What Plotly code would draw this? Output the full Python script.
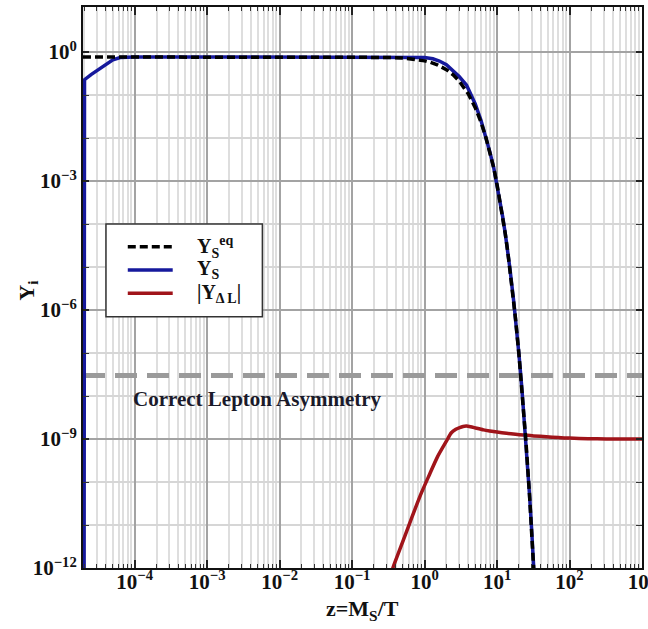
import math
import plotly.graph_objects as go

# ---- data -----------------------------------------------------------------
# z = M_S / T
X_MIN, X_MAX = 1.935e-5, 1.0e3
Y_MIN, Y_MAX = 1.0e-12, 11.2

# equilibrium yield Y_S^eq
z_eq = [1.935e-5, 1e-4, 1e-3, 1e-2, 0.1, 0.3, 0.5, 0.8, 1.0, 1.2, 1.5, 2.0,
        2.5, 3.0, 3.5, 4.0, 5.0, 6.0, 7.0, 8.0, 9.0, 10, 11, 12, 13, 14, 15,
        17, 18, 20, 22, 25, 28, 30, 32, 33, 35]
y_eq = [0.77, 0.77, 0.77, 0.77, 0.768, 0.753, 0.727, 0.670, 0.626, 0.578,
        0.506, 0.391, 0.292, 0.213, 0.152, 0.107, 0.0511, 0.02345, 0.01046,
        4.57e-3, 2.04e-3, 8.28e-4, 3.46e-4, 1.43e-4, 5.87e-5, 2.39e-5,
        9.68e-6, 1.56e-6, 6.21e-7, 9.75e-8, 1.51e-8, 9.02e-10, 5.28e-11,
        7.89e-12, 1.17e-12, 4.51e-13, 6.65e-14]

# singlet yield Y_S
z_s = [2.0e-5, 2.03e-5, 2.5e-5, 3.2e-5, 4.0e-5, 5.0e-5, 6.3e-5, 8e-5, 1e-4,
       1e-3, 1e-2, 0.1, 0.5, 0.8, 1.0, 1.3, 1.6, 2.0, 2.5, 3.0, 3.8, 5.0,
       6.0, 7.0, 8.0, 9.0, 10, 11, 12, 13, 14, 15, 17, 18, 20, 22, 25, 28,
       30, 32, 33, 35]
y_s = [1e-14, 0.228, 0.30, 0.40, 0.52, 0.66, 0.745, 0.77, 0.77, 0.77, 0.77,
       0.77, 0.77, 0.765, 0.75, 0.70, 0.62, 0.51, 0.37, 0.27, 0.17, 0.062,
       0.026, 0.0108, 4.6e-3, 2.04e-3, 8.28e-4, 3.46e-4, 1.43e-4, 5.87e-5,
       2.39e-5, 9.68e-6, 1.56e-6, 6.21e-7, 9.75e-8, 1.51e-8, 9.02e-10,
       5.28e-11, 7.89e-12, 1.17e-12, 4.51e-13, 6.65e-14]

# lepton asymmetry |Y_ΔL|
z_l = [0.34, 0.365, 0.5, 0.69, 0.9, 1.17, 1.5, 2.0, 2.34, 2.7, 3.05, 3.4,
       3.77, 4.3, 5.2, 6.5, 7.9, 10, 13.5, 18, 23, 32, 48, 70, 100, 180,
       320, 600, 1000]
y_l = [7e-13, 1.0e-12, 4.1e-12, 1.74e-11, 5.5e-11, 1.5e-10, 3.8e-10,
       8.9e-10, 1.40e-9, 1.68e-9, 1.85e-9, 1.96e-9, 2.0e-9, 1.93e-9,
       1.78e-9, 1.63e-9, 1.54e-9, 1.45e-9, 1.36e-9, 1.29e-9, 1.24e-9,
       1.18e-9, 1.13e-9, 1.08e-9, 1.05e-9, 1.02e-9, 1.0e-9, 1.0e-9, 1.0e-9]

# observed lepton asymmetry level
Y_CORRECT = 3.0e-8

y_major = [1e-12, 1e-9, 1e-6, 1e-3, 1.0]
y_major_text = ["10<sup>−12</sup>", "10<sup>−9</sup>", "10<sup>−6</sup>",
                "10<sup>−3</sup>", "10<sup>0</sup>"]
y_minor = [1e-11, 1e-10, 1e-8, 1e-7, 1e-5, 1e-4, 1e-2, 1e-1]
x_major = [1e-4, 1e-3, 1e-2, 1e-1, 1.0, 1e1, 1e2, 1e3]
x_major_text = ["10<sup>−4</sup>", "10<sup>−3</sup>", "10<sup>−2</sup>",
                "10<sup>−1</sup>", "10<sup>0</sup>", "10<sup>1</sup>",
                "10<sup>2</sup>", "10<sup>3</sup>"]

legend_labels = ["Y<sub>S</sub><sup>eq</sup>", "Y<sub>S</sub>",
                 "|Y<sub>Δ L</sub>|"]

# ---- styling ----------------------------------------------------------------
FONT = "Liberation Serif, Times New Roman, serif"
BLUE = "#16199c"
RED = "#a0141a"
BLACK = "#000000"
GREY = "#9a9a9a"
TXT = "#111111"

x_minor = [k * 10.0 ** d for d in range(-5, 3) for k in range(2, 10)
           if X_MIN <= k * 10.0 ** d <= X_MAX]

fig = go.Figure()

fig.add_trace(go.Scatter(x=[X_MIN, X_MAX], y=[Y_CORRECT, Y_CORRECT],
                         mode="lines", showlegend=False, hoverinfo="skip",
                         line=dict(color=GREY, width=5, dash="22px,10px")))
fig.add_trace(go.Scatter(x=z_l, y=y_l, mode="lines", name=legend_labels[2],
                         showlegend=False,
                         line=dict(color=RED, width=3.5, shape="spline",
                                   smoothing=0.7)))
fig.add_trace(go.Scatter(x=z_s, y=y_s, mode="lines", name=legend_labels[1],
                         showlegend=False,
                         line=dict(color=BLUE, width=3.5)))
fig.add_trace(go.Scatter(x=z_eq, y=y_eq, mode="lines", name=legend_labels[0],
                         showlegend=False,
                         line=dict(color=BLACK, width=3.5, dash="8px,4px")))

fig.update_layout(
    width=648, height=629,
    margin=dict(l=83.3, r=5.5, t=7, b=61),
    paper_bgcolor="white", plot_bgcolor="white",
    font=dict(family=FONT, color=TXT, size=21, weight="bold"),
    xaxis=dict(
        type="log", range=[math.log10(X_MIN), math.log10(X_MAX)],
        tickmode="array", tickvals=x_major, ticktext=x_major_text,
        tickfont=dict(family=FONT, size=21, color=TXT, weight="bold"),
        ticklabeloverflow="allow", ticklabelstandoff=-6,
        ticks="inside", ticklen=8, tickwidth=1.5, tickcolor="#222",
        showgrid=True, gridcolor="#a3a3a3", gridwidth=1.5,
        minor=dict(tickmode="array", tickvals=x_minor, ticks="inside",
                   ticklen=4, tickwidth=1, tickcolor="#333",
                   showgrid=True, gridcolor="#dedede", gridwidth=1.5),
        showline=True, linecolor="#111", linewidth=2, mirror="ticks",
        automargin=False, zeroline=False,
    ),
    yaxis=dict(
        type="log", range=[math.log10(Y_MIN), math.log10(Y_MAX)],
        tickmode="array", tickvals=y_major, ticktext=y_major_text,
        tickfont=dict(family=FONT, size=21, color=TXT, weight="bold"),
        ticklabeloverflow="allow",
        ticks="inside", ticklen=6, tickwidth=1.5, tickcolor="#222",
        showgrid=True, gridcolor="#a3a3a3", gridwidth=1.5,
        minor=dict(tickmode="array", tickvals=y_minor, ticks="inside",
                   ticklen=6, tickwidth=1, tickcolor="#333",
                   showgrid=True, gridcolor="#d6d6d6", gridwidth=1.5),
        showline=True, linecolor="#111", linewidth=2, mirror="ticks",
        automargin=False, zeroline=False,
    ),
)

# axis titles
fig.add_annotation(text="z=M<sub>S</sub>/T", xref="paper", yref="paper",
                   x=0.5, y=-0.075, xanchor="center", yanchor="middle",
                   showarrow=False, font=dict(size=22, family=FONT, color=TXT,
                                              weight="bold"))
fig.add_annotation(text="Y<sub>i</sub>", xref="paper", yref="paper",
                   x=-0.099, y=0.4955, xanchor="center", yanchor="middle",
                   textangle=-90, showarrow=False,
                   font=dict(size=22, family=FONT, color=TXT, weight="bold"))

# label for the asymmetry level
fig.add_annotation(text="Correct Lepton Asymmetry", xref="paper", yref="paper",
                   x=0.3124, y=0.301, xanchor="center", yanchor="middle",
                   showarrow=False, font=dict(size=21, family=FONT,
                                              color="#1a1a2a", weight="bold"))

# legend box
fig.add_shape(type="rect", xref="paper", yref="paper",
              x0=0.0411, x1=0.3209, y0=0.4480, y1=0.6132,
              line=dict(color="#333", width=1.5), fillcolor="white",
              layer="above")
legend_rows = [0.5727, 0.5312, 0.4897]
legend_styles = [dict(color=BLACK, width=3.5, dash="8px,4px"),
                 dict(color=BLUE, width=3.5),
                 dict(color=RED, width=3.5)]
for row, lab, sty in zip(legend_rows, legend_labels, legend_styles):
    fig.add_shape(type="line", xref="paper", yref="paper",
                  x0=0.0801, x1=0.1605, y0=row, y1=row, line=sty,
                  layer="above")
    fig.add_annotation(text=lab, xref="paper", yref="paper", x=0.2001, y=row,
                       xanchor="left", yanchor="middle", showarrow=False,
                       font=dict(size=20, family=FONT, color=TXT,
                                 weight="bold"))

fig.write_html("out.html")
